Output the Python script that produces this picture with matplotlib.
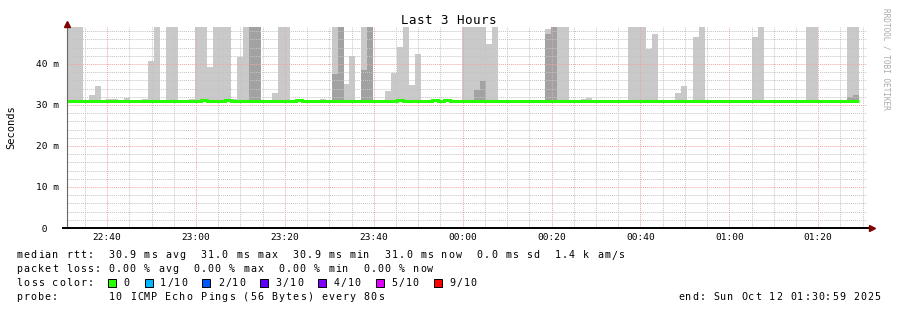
import numpy as np
import matplotlib
matplotlib.use("Agg")
import matplotlib.pyplot as plt
from matplotlib.patches import Rectangle
from matplotlib.ticker import MultipleLocator, FuncFormatter

# ---- data (time in minutes after 22:00, rtt in ms) ----
t_start = 30 + 59 / 60          # 22:30:59
t_end = t_start + 180           # 01:30:59
step_origin = 30 + 32 / 60      # first 80 s step starts 22:30:32
step_len = 80 / 60
n_steps = 134

median_base = 30.9
median_hi_steps = [23, 27, 39, 56, 62, 64]
median_hi = 31.1

# light smoke: upper edge per step (60 = beyond top of graph)
smoke_steps = [0, 1, 2, 4, 5, 7, 8, 10, 13, 14,
               15, 17, 18, 21, 22, 23, 24, 25, 26, 27,
               28, 29, 30, 31, 32, 35, 36, 37, 43, 45,
               46, 47, 48, 50, 51, 54, 55, 56, 57, 58,
               59, 67, 68, 69, 70, 71, 72, 81, 82, 83,
               84, 87, 88, 95, 96, 97, 98, 99, 103, 104,
               106, 107, 116, 117, 125, 126, 132, 133]
smoke_top = [60, 60, 60, 32.4, 34.5, 31.5, 31.5, 31.8, 31.5, 40.8,
             60, 60, 60, 31.5, 60, 60, 39.3, 60, 60, 60,
             31.5, 41.8, 60, 60, 60, 33.0, 60, 60, 31.5, 60,
             60, 35.2, 42.0, 60, 60, 33.4, 37.9, 44.2, 60, 34.9,
             42.3, 60, 60, 60, 60, 44.9, 60, 48.5, 60, 60,
             60, 31.5, 31.7, 60, 60, 60, 43.7, 47.3, 32.9, 34.6,
             46.6, 60, 46.6, 60, 60, 60, 60, 60]

# dark smoke
dark_steps = [31, 32, 45, 46, 50, 51, 69, 70, 81, 82, 132, 133]
dark_top = [60, 60, 37.6, 60, 38.4, 60, 33.7, 35.9, 47.3, 60, 31.9, 32.4]

title = "Last 3 Hours"
legend_rows = [
    "median rtt:  30.9 ms avg  31.0 ms max  30.9 ms min  31.0 ms now  0.0 ms sd  1.4 k am/s",
    "packet loss: 0.00 % avg  0.00 % max  0.00 % min  0.00 % now",
    "loss color:",
    "probe:       10 ICMP Echo Pings (56 Bytes) every 80s",
]
loss_labels = ["0", "1/10", "2/10", "3/10", "4/10", "5/10", "9/10"]
loss_colors = ["#26ff00", "#00b8ff", "#0059ff", "#5e00ff", "#7e00ff", "#dd00ff", "#ff0000"]
end_text = "end: Sun Oct 12 01:30:59 2025"

LIGHT = "#c9c9c9"
DARK = "#a2a2a2"

# ---- figure ----
W, H = 897, 310
plt.rcParams["font.family"] = "DejaVu Sans Mono"
fig = plt.figure(figsize=(W / 100, H / 100), dpi=100)
fig.patch.set_facecolor("white")


def fx(x):
    return x / W


def fy(y):
    return 1 - y / H


def mono_text(s, x0, y_base, cw, size, **kw):
    # rrdtool spaces its glyphs wider than matplotlib does, place char by char
    for i, ch in enumerate(s):
        if ch != " ":
            fig.text(fx(x0 + (i + 0.5) * cw), fy(y_base), ch, ha="center",
                     va="baseline", fontsize=size, **kw)


ax = fig.add_axes([fx(67), fy(228), 800 / W, 201 / H])
ax.set_xlim(t_start, t_end)
ax.set_ylim(0, 49)

median = np.full(n_steps, median_base)
median[median_hi_steps] = median_hi
edges = step_origin + np.arange(n_steps + 1) * step_len

sx = step_origin + np.array(smoke_steps) * step_len
ax.bar(sx, np.array(smoke_top) - median[smoke_steps], bottom=median[smoke_steps],
       width=step_len, align="edge", color=LIGHT, linewidth=0, zorder=1)
dx = step_origin + np.array(dark_steps) * step_len
ax.bar(dx, np.array(dark_top) - median[dark_steps], bottom=median[dark_steps],
       width=step_len, align="edge", color=DARK, linewidth=0, zorder=1.1)

ax.stairs(median, edges, baseline=None, color=loss_colors[0], linewidth=2.2, zorder=4)

# grid
ax.xaxis.set_major_locator(MultipleLocator(20))
ax.xaxis.set_minor_locator(MultipleLocator(5))
ax.yaxis.set_major_locator(MultipleLocator(10))
ax.yaxis.set_minor_locator(MultipleLocator(2))
ax.set_axisbelow(False)
ax.grid(which="minor", color="#c4c4c4", linestyle=(0, (1, 1)), linewidth=0.7)
ax.grid(which="major", color="#f2a4a4", linestyle=(0, (1, 1)), linewidth=0.7)


def clock(m, pos=None):
    h = (22 + int(m) // 60) % 24
    return f"{h:02d}:{int(m) % 60:02d}"


ax.xaxis.set_major_formatter(FuncFormatter(clock))
ax.tick_params(which="both", length=0)
ax.tick_params(axis="x", pad=3.5, labelsize=6.8)
ax.set_yticks([0, 10, 20, 30, 40])
ax.set_yticklabels([" 0", "10 m", "20 m", "30 m", "40 m"])
ax.tick_params(axis="y", pad=22.3, labelsize=6.8)
for tl in ax.get_yticklabels():
    tl.set_ha("left")
for sp in ax.spines.values():
    sp.set_visible(False)

# axes lines with arrows
ax.plot([0, 0], [0, 1.012], transform=ax.transAxes, color="#666666", lw=0.8,
        clip_on=False, zorder=5)
ax.plot([-0.005, 1.004], [0, 0], transform=ax.transAxes, color="black", lw=1.4,
        clip_on=False, zorder=5)
ax.plot([0], [1.017], marker="^", ms=4.2, color="#7f0000", transform=ax.transAxes,
        clip_on=False, zorder=6)
ax.plot([1.006], [0], marker=">", ms=4.2, color="#7f0000", transform=ax.transAxes,
        clip_on=False, zorder=6)

# texts
mono_text(title, 400, 24, 8.0, 9)
fig.text(fx(11), fy(127), "Seconds", rotation=90, ha="center", va="center", fontsize=7.5)
fig.text(fx(886), fy(59), "RRDTOOL / TOBI OETIKER", rotation=270, ha="center",
         va="center", fontsize=5.6, color="#aaaaaa")

cw = 7.08
row_y = [258.5, 272.3, 286.1, 299.9]
for s, y in zip(legend_rows, row_y):
    mono_text(s, 16, y, cw, 7.2)

x = 108
for lab, col in zip(loss_labels, loss_colors):
    fig.patches.append(Rectangle((fx(x), fy(287)), 8 / W, 8 / H, transform=fig.transFigure,
                                 facecolor=col, edgecolor="black", linewidth=0.7))
    mono_text(lab, x + 15, row_y[2], cw, 7.2)
    x += 15 + len(lab) * cw + 14.5

mono_text(end_text, 678, row_y[3], 6.98, 7.2)

fig.savefig("out.png", dpi=100)
